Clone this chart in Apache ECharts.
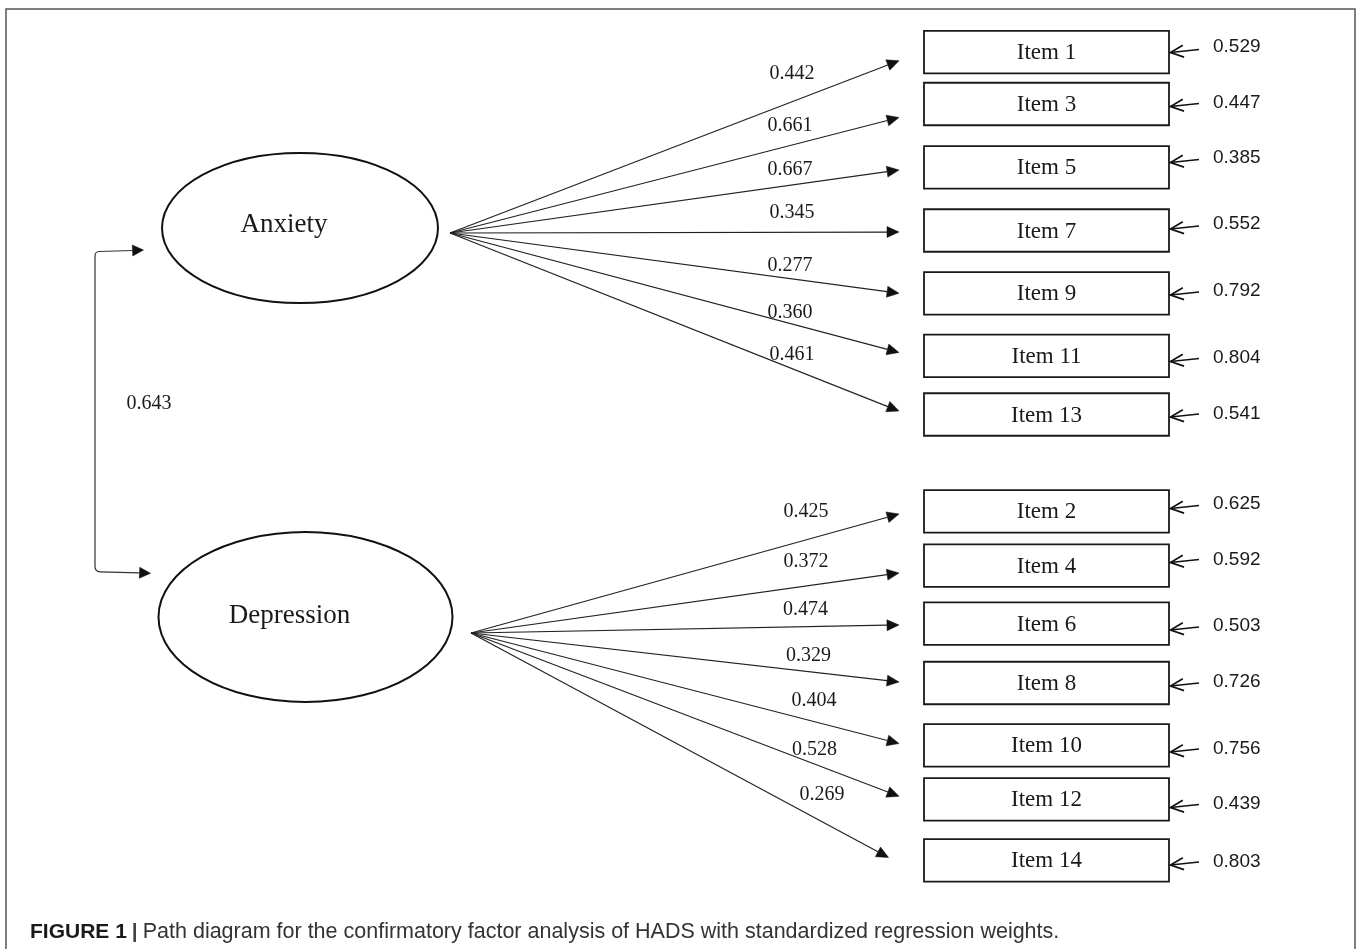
<!DOCTYPE html>
<html>
<head>
<meta charset="utf-8">
<script src="https://cdn.jsdelivr.net/npm/echarts@6/dist/echarts.min.js"></script>
<style>
html,body{margin:0;padding:0;background:#fff;}
#c{width:1358px;height:949px;}
</style>
</head>
<body>
<div id="c"></div>
<script>
// ---------------- DATA ----------------
const factors = ['Anxiety', 'Depression'];
const factorCorrelation = 0.643;
const anxietyItems = ['Item 1', 'Item 3', 'Item 5', 'Item 7', 'Item 9', 'Item 11', 'Item 13'];
const anxietyLoadings = [0.442, 0.661, 0.667, 0.345, 0.277, 0.360, 0.461];
const anxietyErrors = [0.529, 0.447, 0.385, 0.552, 0.792, 0.804, 0.541];
const depressionItems = ['Item 2', 'Item 4', 'Item 6', 'Item 8', 'Item 10', 'Item 12', 'Item 14'];
const depressionLoadings = [0.425, 0.372, 0.474, 0.329, 0.404, 0.528, 0.269];
const depressionErrors = [0.625, 0.592, 0.503, 0.726, 0.756, 0.439, 0.803];
const captionBold = 'FIGURE 1';
const captionText = 'Path diagram for the confirmatory factor analysis of HADS with standardized regression weights.';

// ---------------- LAYOUT (diagram units = hidden axis units) ----------------
const factorLayout = [
  { cx: 300, cy: 228, rx: 138, ry: 75, tx: 284, ty: 225, ox: 450, oy: 233 },
  { cx: 305.5, cy: 617, rx: 147, ry: 85, tx: 289.5, ty: 616, ox: 471, oy: 633 }
];
const boxLeft = 924, boxRight = 1169, boxHeight = 42.5;
const boxCenterY = [
  [52.2, 104, 167.3, 230.5, 293.3, 355.8, 414.5],
  [511.3, 565.7, 623.7, 683, 745.3, 799.3, 860.3]
];
const loadTipX = [
  [899, 899, 899, 899, 899, 899, 899],
  [899, 899, 899, 899, 899, 899, 888.5]
];
const loadTipY = [
  [60.7, 117.5, 170, 232, 293.3, 352.5, 411],
  [514, 573, 625, 682, 743.5, 796.3, 857.5]
];
const loadLabelX = [
  [792, 790, 790, 792, 790, 790, 792],
  [806, 806, 805.5, 808.5, 814, 814.5, 822]
];
const loadLabelY = [
  [74, 126, 169.5, 212.5, 266, 313, 355],
  [512, 562, 610, 656, 701, 750, 795]
];
const errTailX = 1199;
const errTipY = [
  [52.5, 106.5, 162.5, 229, 295, 361.5, 417],
  [508.5, 562.5, 630, 686, 752, 807.5, 865]
];
const errLabelX = 1213;
const errLabelY = [
  [46.7, 102.7, 158, 224, 290.7, 358, 414],
  [504, 559.3, 626, 681.7, 748.3, 804, 861.7]
];
const corrLayout = { lineX: 95, topTipX: 143.5, topY: 250, botTipX: 150.5, botY: 573.3, labelX: 149, labelY: 403.5 };

// ---------------- RENDER ----------------
const serif = "'Liberation Serif', 'Times New Roman', serif";
const sans = "'Liberation Sans', Arial, sans-serif";
const ink = '#1a1a1a';
const itemNames = [anxietyItems, depressionItems];
const loadings = [anxietyLoadings, depressionLoadings];
const errors = [anxietyErrors, depressionErrors];

const rows = [];
itemNames.forEach((arr, f) => arr.forEach((_, i) => rows.push([f, i])));

function arrowHead(tip, from, len, half) {
  const dx = tip[0] - from[0], dy = tip[1] - from[1];
  const L = Math.hypot(dx, dy);
  const ux = dx / L, uy = dy / L, nx = -uy, ny = ux;
  const bx = tip[0] - ux * len, by = tip[1] - uy * len;
  return { base: [bx, by], left: [bx + nx * half, by + ny * half], right: [bx - nx * half, by - ny * half] };
}

function renderItemRow(params, api) {
  const f = api.value(0), i = api.value(1);
  const P = (x, y) => api.coord([x, y]);
  const fl = factorLayout[f];
  const cy = boxCenterY[f][i];
  const tl = P(boxLeft, cy - boxHeight / 2), br = P(boxRight, cy + boxHeight / 2);
  const origin = P(fl.ox, fl.oy);
  const tip = P(loadTipX[f][i], loadTipY[f][i]);
  const h = arrowHead(tip, origin, 12, 5.5);
  const eTip = P(boxRight + 1.5, errTipY[f][i]);
  const eTail = P(errTailX, errTipY[f][i] - 3);
  const eh = arrowHead(eTip, eTail, 13, 6);
  const lab = P(loadLabelX[f][i], loadLabelY[f][i]);
  const elab = P(errLabelX, errLabelY[f][i]);
  return {
    type: 'group',
    children: [
      { type: 'line', shape: { x1: origin[0], y1: origin[1], x2: h.base[0], y2: h.base[1] }, style: { stroke: '#222', lineWidth: 1.2, fill: 'none' } },
      { type: 'polygon', shape: { points: [tip, h.left, h.right] }, style: { fill: '#111', stroke: '#111', lineWidth: 0.5 } },
      { type: 'rect', shape: { x: tl[0], y: tl[1], width: br[0] - tl[0], height: br[1] - tl[1] }, style: { fill: '#fff', stroke: '#1a1a1a', lineWidth: 1.8 } },
      { type: 'text', style: { text: itemNames[f][i], x: (tl[0] + br[0]) / 2, y: (tl[1] + br[1]) / 2 + 1, font: '23px ' + serif, fill: ink, textAlign: 'center', textVerticalAlign: 'middle' } },
      { type: 'text', style: { text: loadings[f][i].toFixed(3), x: lab[0], y: lab[1], font: '20px ' + serif, fill: ink, textAlign: 'center', textVerticalAlign: 'middle' } },
      { type: 'polyline', shape: { points: [eTail, eTip] }, style: { stroke: '#111', lineWidth: 1.7, fill: 'none' } },
      { type: 'polyline', shape: { points: [eh.left, eTip, eh.right] }, style: { stroke: '#111', lineWidth: 1.7, fill: 'none' } },
      { type: 'text', style: { text: errors[f][i].toFixed(3), x: elab[0], y: elab[1], font: '19px ' + sans, fill: ink, textAlign: 'left', textVerticalAlign: 'middle' } }
    ]
  };
}

function renderFactor(params, api) {
  const f = api.value(0);
  const fl = factorLayout[f];
  const c = api.coord([fl.cx, fl.cy]);
  const t = api.coord([fl.tx, fl.ty]);
  return {
    type: 'group',
    children: [
      { type: 'ellipse', shape: { cx: c[0], cy: c[1], rx: fl.rx, ry: fl.ry }, style: { fill: '#fff', stroke: '#111', lineWidth: 2 } },
      { type: 'text', style: { text: factors[f], x: t[0], y: t[1], font: '27px ' + serif, fill: ink, textAlign: 'center', textVerticalAlign: 'middle' } }
    ]
  };
}

function renderCorr(params, api) {
  const v = api.value(0);
  const L = corrLayout;
  const P = (x, y) => api.coord([x, y]);
  const a = P(L.topTipX - 11, L.topY + 0.5);
  const b = P(L.lineX + 4, L.topY + 1.5);
  const c = P(L.lineX, L.topY + 6);
  const d = P(L.lineX, L.botY - 7);
  const e = P(L.lineX + 5, L.botY - 1.5);
  const g = P(L.botTipX - 11, L.botY - 0.5);
  const topTip = P(L.topTipX, L.topY), botTip = P(L.botTipX, L.botY);
  const h1 = arrowHead(topTip, a, 11, 5.5);
  const h2 = arrowHead(botTip, g, 11, 5.5);
  const lab = P(L.labelX, L.labelY);
  const pathData = 'M' + a[0] + ' ' + a[1] + ' L' + b[0] + ' ' + b[1] +
    ' Q' + L.lineX + ' ' + (L.topY + 1.7) + ' ' + c[0] + ' ' + c[1] +
    ' L' + d[0] + ' ' + d[1] +
    ' Q' + L.lineX + ' ' + (L.botY - 1.5) + ' ' + e[0] + ' ' + e[1] +
    ' L' + g[0] + ' ' + g[1];
  return {
    type: 'group',
    children: [
      { type: 'path', shape: { pathData: pathData }, style: { stroke: '#333', lineWidth: 1.2, fill: 'none' } },
      { type: 'polygon', shape: { points: [topTip, h1.left, h1.right] }, style: { fill: '#111', stroke: '#111', lineWidth: 0.5 } },
      { type: 'polygon', shape: { points: [botTip, h2.left, h2.right] }, style: { fill: '#111', stroke: '#111', lineWidth: 0.5 } },
      { type: 'text', style: { text: v.toFixed(3), x: lab[0], y: lab[1], font: '20px ' + serif, fill: ink, textAlign: 'center', textVerticalAlign: 'middle' } }
    ]
  };
}

const chart = echarts.init(document.getElementById('c'));
chart.setOption({
  animation: false,
  backgroundColor: '#fff',
  grid: { left: 0, right: 0, top: 0, bottom: 0 },
  xAxis: { type: 'value', min: 0, max: 1358, show: false },
  yAxis: { type: 'value', min: 0, max: 949, inverse: true, show: false },
  title: {
    left: 25, top: 916,
    text: '{b|' + captionBold + '} {s||} {r|' + captionText + '}',
    textStyle: {
      fontWeight: 'normal',
      rich: {
        b: { fontFamily: sans, fontWeight: 'bold', fontSize: 21, color: '#1a1a1a' },
        s: { fontFamily: sans, fontWeight: 'bold', fontSize: 21, color: '#444' },
        r: { fontFamily: sans, fontWeight: 'normal', fontSize: 21.5, color: '#333' }
      }
    }
  },
  graphic: [
    { type: 'rect', z: -1, shape: { x: 6, y: 9, width: 1349, height: 980 }, style: { fill: 'none', stroke: '#555', lineWidth: 1.5 } }
  ],
  series: [
    { type: 'custom', coordinateSystem: 'cartesian2d', clip: false, silent: true, renderItem: renderItemRow, data: rows },
    { type: 'custom', coordinateSystem: 'cartesian2d', clip: false, silent: true, renderItem: renderFactor, data: factors.map((_, f) => [f]) },
    { type: 'custom', coordinateSystem: 'cartesian2d', clip: false, silent: true, renderItem: renderCorr, data: [[factorCorrelation]] }
  ]
});
</script>
</body>
</html>
